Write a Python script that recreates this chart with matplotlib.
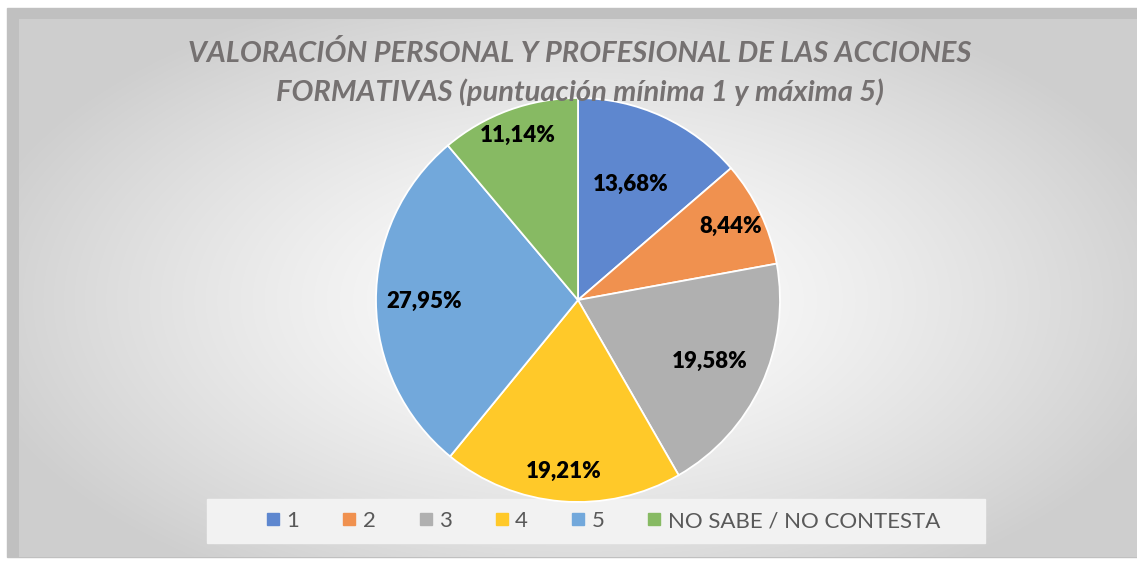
import numpy as np
import matplotlib.pyplot as plt
from matplotlib.patches import Rectangle
from matplotlib.lines import Line2D

plt.rcParams['font.family'] = ['Lato', 'DejaVu Sans']

# data
categories = ['1', '2', '3', '4', '5', 'NO SABE / NO CONTESTA']
values = [13.68, 8.44, 19.58, 19.21, 27.95, 11.14]
labels = ['13,68%', '8,44%', '19,58%', '19,21%', '27,95%', '11,14%']
colors = ['#5E87CF', '#F0914F', '#B0B0B0', '#FFC929', '#72A8DB', '#87BA63']
label_dist = [0.63, 0.84, 0.72, 0.85, 0.76, 0.87]

title = ('VALORACIÓN PERSONAL Y PROFESIONAL DE LAS ACCIONES\n'
         'FORMATIVAS (puntuación mínima 1 y máxima 5)')

W, H = 1137, 562
fig = plt.figure(figsize=(W / 100, H / 100), dpi=100)
fig.patch.set_facecolor('white')

# background: frame + radial gradient
bg = fig.add_axes([0, 0, 1, 1])
bg.set_xlim(0, W)
bg.set_ylim(H, 0)
bg.axis('off')
bg.add_patch(Rectangle((7, 8), W - 7, 549, color='#c0c0c0', zorder=0))
yy, xx = np.mgrid[19:557, 19:W]
r = np.sqrt(((xx - 578) / 620.0) ** 2 + ((yy - 300) / 330.0) ** 2)
g = 1.0 - 0.19 * np.clip(r, 0, 1) ** 1.3
bg.imshow(np.dstack([g, g, g]), extent=(19, W, 557, 19), aspect='auto',
          interpolation='bilinear', zorder=1)

# legend box
bg.add_patch(Rectangle((207, 499), 778, 44, color='#f2f2f2', zorder=2))

# pie
cx, cy, rad = 578, 300, 202
ax = fig.add_axes([(cx - rad) / W, (H - cy - rad) / H, 2 * rad / W, 2 * rad / H])
wedges, _ = ax.pie(values, colors=colors, startangle=90, counterclock=False,
                   radius=1.0, wedgeprops=dict(edgecolor='white', linewidth=1.3))
for w, lab, d in zip(wedges, labels, label_dist):
    ang = np.deg2rad((w.theta1 + w.theta2) / 2)
    ax.text(d * np.cos(ang), d * np.sin(ang), lab, ha='center', va='center',
            fontsize=16, fontweight='heavy', color='black')
ax.set_xlim(-1, 1)
ax.set_ylim(-1, 1)
ax.axis('off')
ax.set_zorder(2)

fig.text(580 / W, 1 - 73 / H, title, ha='center', va='center', fontsize=21,
         fontweight='bold', fontstyle='italic', color='#757171',
         linespacing=1.55, zorder=5)

handles = [Line2D([], [], marker='s', linestyle='none', markersize=9,
                  markerfacecolor=c, markeredgecolor=c) for c in colors]
leg = fig.legend(handles, categories, loc='center', ncol=6,
                 bbox_to_anchor=(601 / W, 1 - 521 / H), frameon=False,
                 fontsize=16, labelcolor='#595959', handletextpad=0.1,
                 columnspacing=1.75, handlelength=1.0)
leg.set_zorder(5)

fig.savefig('out.png', dpi=100)
